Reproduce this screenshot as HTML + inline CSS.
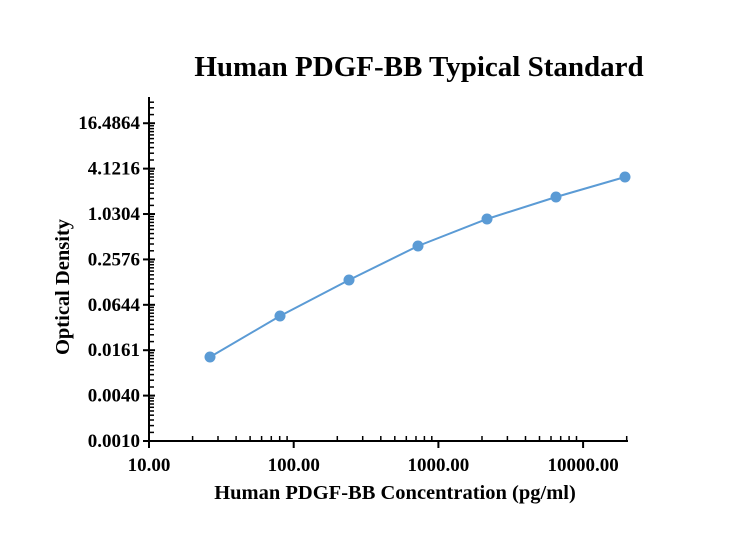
<!DOCTYPE html>
<html><head><meta charset="utf-8"><style>body{margin:0;background:#fff}svg{display:block}text{font-family:"Liberation Serif",serif;font-weight:bold;fill:#000}</style></head>
<body>
<svg id="s" width="737" height="553" xmlns="http://www.w3.org/2000/svg">
<text x="419" y="76" font-size="29" text-anchor="middle">Human PDGF-BB Typical Standard</text>
<text x="395" y="499" font-size="20.5" text-anchor="middle">Human PDGF-BB Concentration (pg/ml)</text>
<text transform="translate(69,287) rotate(-90)" font-size="20.5" text-anchor="middle">Optical Density</text>
<g id="ax" stroke="#000" stroke-width="2"></g>
<g id="lb" font-size="19"></g>
<polyline fill="none" stroke="#5b9bd5" stroke-width="2" points="210,357 280,316 349,280 418,246 487,219 556,197 625,177"/>
<g fill="#5b9bd5"><circle cx="210" cy="357" r="5.5"/><circle cx="280" cy="316" r="5.5"/><circle cx="349" cy="280" r="5.5"/><circle cx="418" cy="246" r="5.5"/><circle cx="487" cy="219" r="5.5"/><circle cx="556" cy="197" r="5.5"/><circle cx="625" cy="177" r="5.5"/></g>
</svg>
<script>
var ax=document.getElementById('ax'),lb=document.getElementById('lb'),h='',t='';
var x0=149,y0=441,py=75.4,px=144.7,d4=Math.log10(4)*py;
h+='<line x1="'+x0+'" y1="97" x2="'+x0+'" y2="442"/><line x1="148" y1="'+y0+'" x2="628" y2="'+y0+'"/>';
for(var i=0;i<8;i++)for(var j=1;j<10;j++){var y=y0-i*d4-Math.log10(1+j*0.3)*py;if(y<98)continue;h+='<line x1="'+x0+'" y1="'+y.toFixed(1)+'" x2="'+(x0+5)+'" y2="'+y.toFixed(1)+'" stroke-width="1.5"/>';}
var labs=['0.0010','0.0040','0.0161','0.0644','0.2576','1.0304','4.1216','16.4864'];
for(var i=0;i<8;i++){var y=y0-i*d4;h+='<line x1="'+(x0-6)+'" y1="'+y+'" x2="'+(x0+6)+'" y2="'+y+'"/>';t+='<text x="140" y="'+(y+6)+'" text-anchor="end">'+labs[i]+'</text>';}
for(var n=0;n<4;n++)for(var k=1;k<10;k++){var x=x0+(Math.log10(k)+n)*px;if(x>628)continue;if(k==1){h+='<line x1="'+x+'" y1="'+y0+'" x2="'+x+'" y2="'+(y0+7)+'"/>';}else h+='<line x1="'+x.toFixed(1)+'" y1="'+y0+'" x2="'+x.toFixed(1)+'" y2="'+(y0-5)+'" stroke-width="1.5"/>';}
var xl=['10.00','100.00','1000.00','10000.00'];
for(var i=0;i<4;i++)t+='<text x="'+(x0+i*px)+'" y="471" text-anchor="middle">'+xl[i]+'</text>';
ax.innerHTML=h;lb.innerHTML=t;
</script>
</body></html>
